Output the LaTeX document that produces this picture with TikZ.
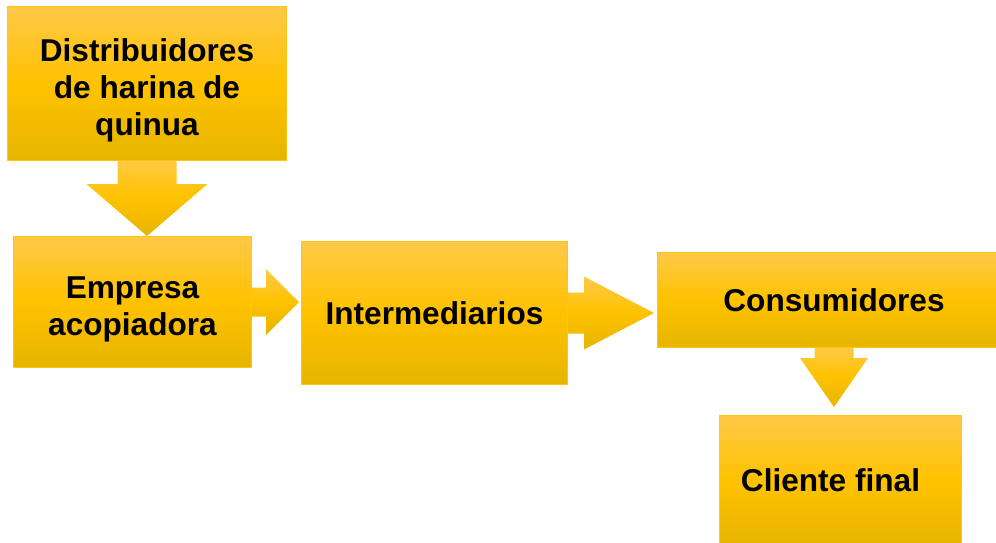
\documentclass[tikz,border=0pt]{standalone}
\usepackage{fontspec}
\setmainfont{Liberation Sans}
\usetikzlibrary{calc}
\definecolor{ytop}{RGB}{255,201,72}
\definecolor{ymid}{RGB}{255,194,0}
\definecolor{ybot}{RGB}{230,181,0}
\definecolor{yline}{RGB}{255,196,20}
\pgfdeclarelayer{background}
\pgfsetlayers{background,main}
\tikzset{
  box/.style={rectangle, anchor=north west, inner sep=0pt, draw=yline, line width=1pt,
    top color=ytop, bottom color=ybot, middle color=ymid,
    font=\fontsize{31.6}{37}\selectfont\bfseries, align=center, text=black},
  blockarrow/.style={top color=ytop, bottom color=ybot, middle color=ymid, draw=none}
}
\begin{document}
\begin{tikzpicture}[x=1pt,y=1pt]
\useasboundingbox (0,0) rectangle (996,-542);
\node[box, minimum width=279pt, minimum height=154pt] (b1) at (7,-6)
  {\rule{0pt}{6pt}\\[-6pt]Distribuidores\\de harina de\\quinua};
\node[box, minimum width=238pt, minimum height=131pt] (b2) at (13,-236)
  {\rule{0pt}{8pt}\\[-8pt]Empresa\\acopiadora};
\node[box, minimum width=266pt, minimum height=143pt] (b3) at (301,-241)
  {Intermediarios};
\node[box, minimum width=362pt, minimum height=95pt] (b4) at (657,-252)
  {Consumidores\hspace*{9pt}};
\node[box, minimum width=242pt, minimum height=130pt] (b5) at (719,-415)
  {Cliente final\hspace*{20pt}};
\begin{pgfonlayer}{background}
\fill[white] (0,0) rectangle (996,-542);
% arrow 1 (down)
\path[blockarrow]
  ($(b1.south)+(-29.5,2)$) -- ($(b1.south)+(-29.5,-23)$) -- ($(b1.south)+(-60.5,-23)$)
  -- (b1.south |- b2.north)
  -- ($(b1.south)+(60.5,-23)$) -- ($(b1.south)+(29.5,-23)$) -- ($(b1.south)+(29.5,2)$) -- cycle;
% arrow 2 (right)
\path[blockarrow]
  ($(b2.east)+(-2,14.5)$) -- ($(b2.east)+(14,14.5)$) -- ($(b2.east)+(14,33)$)
  -- ($(b3.west |- b2.east)+(-2,0)$)
  -- ($(b2.east)+(14,-33)$) -- ($(b2.east)+(14,-14.5)$) -- ($(b2.east)+(-2,-14.5)$) -- cycle;
% arrow 3 (right)
\path[blockarrow]
  ($(b3.east)+(-2,20.5)$) -- ($(b3.east)+(16,20.5)$) -- ($(b3.east)+(16,36.5)$)
  -- ($(b4.west |- b3.east)+(-3,0)$)
  -- ($(b3.east)+(16,-36.5)$) -- ($(b3.east)+(16,-20.5)$) -- ($(b3.east)+(-2,-20.5)$) -- cycle;
% arrow 4 (down)
\coordinate (a4) at ($(b4.south west)+(177,0)$);
\path[blockarrow]
  ($(a4)+(-19.5,2)$) -- ($(a4)+(-19.5,-10)$) -- ($(a4)+(-34,-10)$)
  -- ($(a4 |- b5.north)+(0,8)$)
  -- ($(a4)+(34,-10)$) -- ($(a4)+(19.5,-10)$) -- ($(a4)+(19.5,2)$) -- cycle;
\end{pgfonlayer}
\end{tikzpicture}
\end{document}
